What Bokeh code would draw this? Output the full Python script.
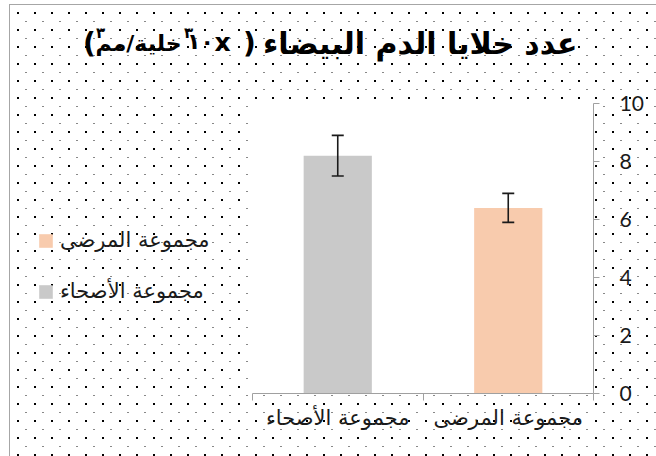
from bokeh.plotting import figure
from bokeh.models import (ColumnDataSource, Range1d, LinearAxis, FixedTicker, Whisker,
                          TeeHead, Legend, LegendItem, Label, BoxAnnotation)
from bokeh.embed import file_html
from bokeh.resources import INLINE

# ---------------- data ----------------
categories = ["مجموعة الأصحاء", "مجموعة المرضى"]
means = [8.2, 6.4]
errors = [0.7, 0.5]
bar_colors = ["#C9C9C9", "#F8CBAD"]
y_ticks = [0, 2, 4, 6, 8, 10]
legend_order = [1, 0]

title_main = "عدد خلايا الدم البيضاء"
title_unit = "خلية/مم"
title_power = "۱۰"
title_sup = "۳"

# ---------------- derived ----------------
xpos = [i + 0.5 for i in range(len(categories))]
bounds = [float(i) for i in range(len(categories) + 1)]
upper = [m + e for m, e in zip(means, errors)]
lower = [m - e for m, e in zip(means, errors)]

src = ColumnDataSource(dict(x=xpos, top=means, color=bar_colors, cat=categories,
                            upper=upper, lower=lower))

# ---------------- layout geometry (pixels) ----------------
W, H = 656, 456
AX_L, AX_R = 252, 593          # x-axis pixel extent (category bounds)
AX_B, AX_T = 393, 103          # pixel of y=0 and y=10
kx = (AX_R - AX_L) / (bounds[-1] - bounds[0])
ky = (AX_B - AX_T) / (y_ticks[-1] - y_ticks[0])
x_rng = Range1d(bounds[0] - AX_L / kx, bounds[-1] + (W - AX_R) / kx)
y_rng = Range1d(y_ticks[0] - (H - AX_B) / ky, y_ticks[-1] + AX_T / ky)

p = figure(width=W, height=H, output_backend="svg", toolbar_location=None,
           x_range=x_rng, y_range=y_rng,
           x_axis_location=None, y_axis_location=None,
           min_border=0)
p.outline_line_color = None
p.border_fill_color = None
p.background_fill_color = None
p.xgrid.visible = False
p.ygrid.visible = False

tile = ("<svg xmlns='http://www.w3.org/2000/svg' width='17' height='17'>"
        "<rect x='0' y='12' width='2' height='2' fill='%23000'/>"
        "<rect x='8' y='4' width='2' height='1' fill='%23888'/></svg>")
p.styles = {
    "background-color": "white",
    "background-image": ", ".join([
        "linear-gradient(to right, transparent 9px, #A6A6A6 9px, #A6A6A6 10px, transparent 10px)",
        "linear-gradient(to bottom, transparent 4px, #A6A6A6 4px, #A6A6A6 5px, transparent 5px)",
        "linear-gradient(to right, white 9px, transparent 9px)",
        "linear-gradient(to bottom, white 4px, transparent 4px)",
        f'url("data:image/svg+xml;utf8,{tile}")',
    ]),
    "background-size": "100% calc(100% - 4px), calc(100% - 9px) 100%, 100% 100%, 100% 100%, 17px 17px",
    "background-position": "0 4px, 9px 0, 0 0, 0 0, 0 0",
    "background-repeat": "no-repeat, no-repeat, no-repeat, no-repeat, repeat",
}

# white plot area
p.add_layout(BoxAnnotation(left=bounds[0] - 2 / kx, right=bounds[-1], bottom=0,
                           top=y_ticks[-1] + 3 / ky, fill_color="white", fill_alpha=1,
                           line_color=None, level="underlay"))

bars = p.vbar(x="x", top="top", width=0.4, color="color", line_color=None, source=src)

p.add_layout(Whisker(source=src, base="x", upper="upper", lower="lower",
                     line_color="#1a1a1a", line_width=1.6, level="annotation",
                     upper_head=TeeHead(size=12, line_color="#1a1a1a", line_width=1.6),
                     lower_head=TeeHead(size=12, line_color="#1a1a1a", line_width=1.6)))

axis_grey = "#A0A0A0"
yaxis = LinearAxis(ticker=FixedTicker(ticks=y_ticks), fixed_location=bounds[-1],
                   bounds=(y_ticks[0], y_ticks[-1]))
yaxis.axis_line_color = axis_grey
yaxis.major_tick_line_color = axis_grey
yaxis.major_tick_out = 6
yaxis.major_tick_in = 0
yaxis.minor_tick_line_color = None
yaxis.major_label_standoff = 20
yaxis.major_label_text_font = "Lato"
yaxis.major_label_text_font_size = "21px"
yaxis.major_label_text_color = "#1a1a1a"
p.add_layout(yaxis, "right")

xaxis = LinearAxis(ticker=FixedTicker(ticks=xpos, minor_ticks=bounds),
                   major_label_overrides={x: c for x, c in zip(xpos, categories)},
                   fixed_location=y_ticks[0], bounds=(bounds[0], bounds[-1]))
xaxis.axis_line_color = axis_grey
xaxis.major_tick_line_color = None
xaxis.major_tick_out = 0
xaxis.major_tick_in = 0
xaxis.minor_tick_line_color = axis_grey
xaxis.minor_tick_out = 7
xaxis.minor_tick_in = 0
xaxis.major_label_standoff = 5
xaxis.major_label_text_font = "DejaVu Sans"
xaxis.major_label_text_font_size = "21px"
xaxis.major_label_text_color = "#1a1a1a"
p.add_layout(xaxis, "below")

legend = Legend(items=[LegendItem(label=categories[i], renderers=[bars], index=i)
                       for i in legend_order],
                location=(37, H - 303), orientation="vertical",
                glyph_width=17, glyph_height=17, label_height=22, spacing=27,
                label_standoff=6, padding=0, margin=0,
                background_fill_alpha=0, border_line_color=None,
                label_text_font="DejaVu Sans", label_text_font_size="21px",
                label_text_color="#1a1a1a")
p.add_layout(legend, "center")

# title pieces: (text, page x, page baseline y, size, align)
pieces = [
    (title_main, 577, 43, "30px", "right"),
    (")", 249, 43, "28px", "center"),
    ("x", 222, 42, "25px", "center"),
    (title_power, 200, 41, "22px", "center"),
    (title_sup, 188, 32, "15px", "center"),
    (title_unit, 181, 43, "22px", "right"),
    (title_sup, 100, 32, "15px", "center"),
    ("(", 89, 43, "28px", "center"),
]
for txt, px, py, sz, al in pieces:
    p.add_layout(Label(x=px, y=H - py, x_units="screen", y_units="screen", text=txt,
                       text_font="DejaVu Sans", text_font_style="bold", text_font_size=sz,
                       text_align=al, text_baseline="alphabetic", text_color="#000000"))

open("out.html", "w").write(file_html(p, INLINE))
